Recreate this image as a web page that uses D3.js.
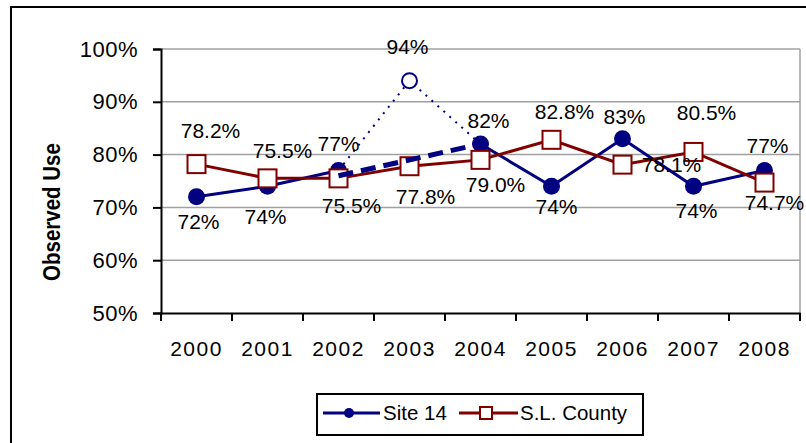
<!DOCTYPE html>
<html>
<head>
<meta charset="utf-8">
<script src="https://cdn.jsdelivr.net/npm/d3@7/dist/d3.min.js"></script>
<style>
  html, body { margin: 0; padding: 0; background: #fff; }
  svg { display: block; font-family: "Liberation Sans", Arial, sans-serif; }
</style>
</head>
<body>
<svg id="chart" width="806" height="443"></svg>
<script>
// ---- data ----
const years = ["2000","2001","2002","2003","2004","2005","2006","2007","2008"];
const site14 = [0.72, 0.74, 0.77, 0.94, 0.82, 0.74, 0.83, 0.74, 0.77];
const site14Labels = ["72%","74%","77%","94%","82%","74%","83%","74%","77%"];
const site14Estimated = [false,false,false,true,false,false,false,false,false];
const county = [0.782, 0.755, 0.755, 0.778, 0.790, 0.828, 0.781, 0.805, 0.747];
const countyLabels = ["78.2%","75.5%","75.5%","77.8%","79.0%","82.8%","78.1%","80.5%","74.7%"];
const gapYears = ["2002","2004"];
const gapValues = [0.76, 0.82];
const yTicks = [0.5, 0.6, 0.7, 0.8, 0.9, 1.0];
const seriesNames = ["Site 14", "S.L. County"];

// ---- label layout (offsets from marker, px) ----
const siteLabelDx = [2,-2,0,-2,8,5,2,3,3];
const siteLabelDy = [25,30,-27,-34,-24,20,-22,24,-25];
const countyLabelDx = [14,15,13,16,15,13,49,13,10];
const countyLabelDy = [-34,-28,27,30,25,-28,0,-40,20];

const blue = "#000080", red = "#800000";
const svg = d3.select("#chart");

// outer chart border
svg.append("rect").attr("x", 11).attr("y", 7).attr("width", 820).attr("height", 460)
  .attr("fill", "none").attr("stroke", "#000").attr("stroke-width", 2);

const pL = 161, pR = 800, pT = 49, pB = 313;
const x = d3.scaleBand().domain(years).range([pL, pR]).padding(0);
const cx = d => x(d) + x.bandwidth() / 2;
const y = d3.scaleLinear().domain([0.5, 1.0]).range([pB, pT]);

// gridlines
svg.append("g").selectAll("line").data(yTicks.filter(t => t > 0.5)).join("line")
  .attr("x1", pL).attr("x2", pR).attr("y1", d => y(d)).attr("y2", d => y(d))
  .attr("stroke", "#a0a0a0").attr("stroke-width", 1.5);
// right plot border
svg.append("line").attr("x1", pR).attr("x2", pR).attr("y1", pT).attr("y2", pB)
  .attr("stroke", "#a0a0a0").attr("stroke-width", 1.5);

// y axis
const yAxis = svg.append("g").attr("transform", `translate(${pL},0)`)
  .call(d3.axisLeft(y).tickValues(yTicks).tickFormat(d3.format(".0%")).tickSize(8).tickPadding(15));
yAxis.select(".domain").attr("stroke", "#000").attr("stroke-width", 2);
yAxis.selectAll(".tick line").attr("stroke", "#000").attr("stroke-width", 2);
yAxis.selectAll(".tick text").attr("font-size", 22).attr("fill", "#000")
  .attr("font-family", "Liberation Sans, Arial, sans-serif").attr("letter-spacing", 0.5);

// x axis
const xAxis = svg.append("g").attr("transform", `translate(0,${pB})`)
  .call(d3.axisBottom(x).tickSize(0).tickPadding(28));
xAxis.select(".domain").attr("stroke", "#000").attr("stroke-width", 2);
xAxis.selectAll(".tick text").attr("font-size", 21).attr("fill", "#000")
  .attr("font-family", "Liberation Sans, Arial, sans-serif").attr("letter-spacing", 1.5);
// boundary ticks
const bounds = years.map(d => x(d)).concat([x(years[years.length - 1]) + x.bandwidth()]);
svg.append("g").selectAll("line").data(bounds).join("line")
  .attr("x1", d => d).attr("x2", d => d).attr("y1", pB).attr("y2", pB + 8)
  .attr("stroke", "#000").attr("stroke-width", 2);

// y title
svg.append("text").attr("transform", "translate(60,212) scale(1.2,1) rotate(-90)")
  .attr("text-anchor", "middle").attr("font-size", 20.5).attr("font-weight", "bold")
  .text("Observed Use");

// ---- Site 14 ----
const site = years.map((yr, i) => ({ yr, v: site14[i], est: site14Estimated[i], i }));
// dotted path through estimated point
const estIdx = site.filter(d => d.est).map(d => d.i);
estIdx.forEach(k => {
  const seg = site.slice(k - 1, k + 2);
  svg.append("path").datum(seg)
    .attr("d", d3.line().x(d => cx(d.yr)).y(d => y(d.v)))
    .attr("fill", "none").attr("stroke", blue).attr("stroke-width", 2)
    .attr("stroke-dasharray", "2,6");
});
// solid segments (skip estimated)
const line = d3.line().defined(d => !d.est).x(d => cx(d.yr)).y(d => y(d.v));
svg.append("path").datum(site).attr("d", line)
  .attr("fill", "none").attr("stroke", blue).attr("stroke-width", 3);
// markers
svg.append("g").selectAll("circle").data(site).join("circle")
  .attr("cx", d => cx(d.yr)).attr("cy", d => y(d.v)).attr("r", d => d.est ? 7.5 : 8.5)
  .attr("fill", d => d.est ? "#fff" : blue).attr("stroke", blue).attr("stroke-width", d => d.est ? 2 : 0);

// ---- County ----
const cty = years.map((yr, i) => ({ yr, v: county[i], i }));
svg.append("path").datum(cty)
  .attr("d", d3.line().x(d => cx(d.yr)).y(d => y(d.v)))
  .attr("fill", "none").attr("stroke", red).attr("stroke-width", 3);
svg.append("g").selectAll("rect").data(cty).join("rect")
  .attr("x", d => cx(d.yr) - 9).attr("y", d => y(d.v) - 9)
  .attr("width", 18).attr("height", 18)
  .attr("fill", "#fff").attr("stroke", red).attr("stroke-width", 2);

// dashed gap line
const gap = gapYears.map((yr, i) => ({ yr, v: gapValues[i] }));
svg.append("path").datum(gap)
  .attr("d", d3.line().x(d => cx(d.yr)).y(d => y(d.v)))
  .attr("fill", "none").attr("stroke", blue).attr("stroke-width", 5)
  .attr("stroke-dasharray", "15,8");

// ---- labels ----
svg.append("g").selectAll("text").data(site).join("text")
  .attr("x", d => cx(d.yr) + siteLabelDx[d.i]).attr("y", d => y(d.v) + siteLabelDy[d.i])
  .attr("dy", "0.36em").attr("text-anchor", "middle").attr("font-size", 21)
  .text(d => site14Labels[d.i]);
svg.append("g").selectAll("text").data(cty).join("text")
  .attr("x", d => cx(d.yr) + countyLabelDx[d.i]).attr("y", d => y(d.v) + countyLabelDy[d.i])
  .attr("dy", "0.36em").attr("text-anchor", "middle").attr("font-size", 21)
  .text(d => countyLabels[d.i]);

// ---- legend ----
const lg = svg.append("g");
lg.append("rect").attr("x", 317).attr("y", 394).attr("width", 326).attr("height", 41)
  .attr("fill", "#fff").attr("stroke", "#000").attr("stroke-width", 2);
const ly = 413;
lg.append("line").attr("x1", 323).attr("x2", 380).attr("y1", ly).attr("y2", ly)
  .attr("stroke", blue).attr("stroke-width", 3);
lg.append("circle").attr("cx", 349).attr("cy", ly).attr("r", 5).attr("fill", blue);
lg.append("text").attr("x", 383).attr("y", ly).attr("dy", "0.36em").attr("font-size", 20.5).text(seriesNames[0]);
lg.append("line").attr("x1", 459).attr("x2", 518).attr("y1", ly).attr("y2", ly)
  .attr("stroke", red).attr("stroke-width", 3);
lg.append("rect").attr("x", 480).attr("y", ly - 6).attr("width", 12).attr("height", 12)
  .attr("fill", "#fff").attr("stroke", red).attr("stroke-width", 2);
lg.append("text").attr("x", 520).attr("y", ly).attr("dy", "0.36em").attr("font-size", 20.5).text(seriesNames[1]);
</script>
</body>
</html>
